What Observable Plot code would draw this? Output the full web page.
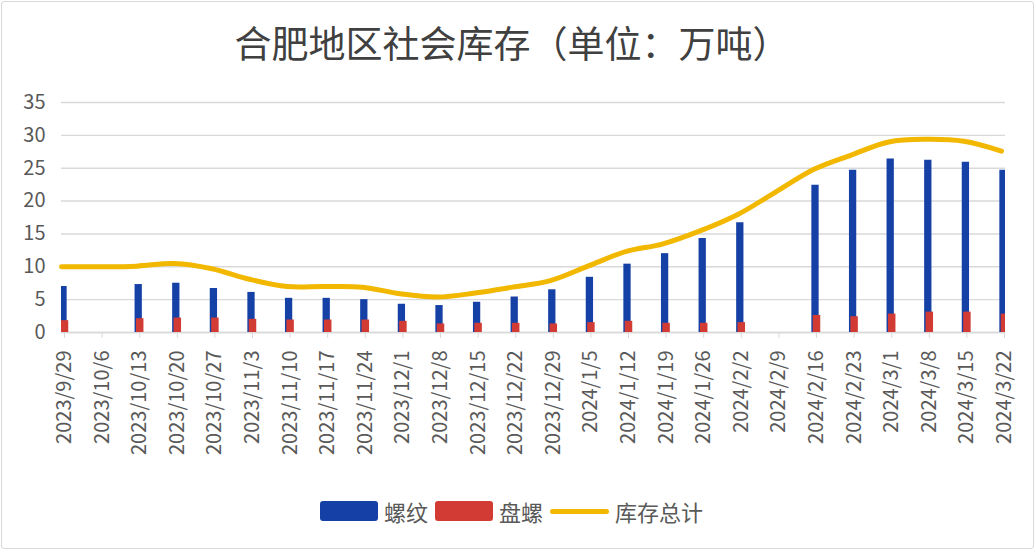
<!DOCTYPE html>
<html>
<head>
<meta charset="utf-8">
<script src="https://cdn.jsdelivr.net/npm/d3@7"></script>
<script src="https://cdn.jsdelivr.net/npm/@observablehq/plot@0.6"></script>
<style>
  html, body { margin: 0; padding: 0; background: #fff; }
  #chart { position: relative; width: 1036px; height: 551px; overflow: hidden; font-family: "Noto Sans CJK SC", "Noto Sans", sans-serif; }
  #frame { position: absolute; left: 1px; top: 1px; width: 1031px; height: 546px; border: 1.5px solid #d9d9d9; border-radius: 3px; }
  #title { position: absolute; left: 0; width: 1024px; top: 16px; text-align: center; font-size: 37px; line-height: 52px; color: #404040; }
  #plot { position: absolute; left: 0; top: 80px; }
  #legend { position: absolute; top: 498px; left: 320px; display: flex; align-items: center; font-size: 22px; color: #595959; }
  .sw { width: 58px; height: 20px; border-radius: 3px; margin-right: 6px; }
  .ln { width: 59px; height: 5px; border-radius: 3px; margin-right: 6px; }
  .lab { margin-right: 7px; line-height: 26px; }
</style>
</head>
<body>
<div id="chart">
  <div id="frame"></div>
  <div id="title">合肥地区社会库存（单位：万吨）</div>
  <div id="plot"></div>
  <div id="legend">
    <div class="sw" style="background:#1541a6"></div><span class="lab">螺纹</span>
    <div class="sw" style="background:#d23b34"></div><span class="lab">盘螺</span>
    <div class="ln" style="background:#f2b800"></div><span class="lab">库存总计</span>
  </div>
</div>
<script>
const dates = ["2023/9/29","2023/10/6","2023/10/13","2023/10/20","2023/10/27","2023/11/3","2023/11/10","2023/11/17","2023/11/24","2023/12/1","2023/12/8","2023/12/15","2023/12/22","2023/12/29","2024/1/5","2024/1/12","2024/1/19","2024/1/26","2024/2/2","2024/2/9","2024/2/16","2024/2/23","2024/3/1","2024/3/8","2024/3/15","2024/3/22"];
const rebar = [7.0,null,7.3,7.5,6.7,6.1,5.2,5.2,5.0,4.3,4.1,4.6,5.4,6.5,8.4,10.4,12.0,14.3,16.7,null,22.4,24.7,26.4,26.2,25.9,24.7];
const coil = [1.8,null,2.1,2.2,2.2,2.0,1.9,1.9,1.9,1.7,1.3,1.4,1.4,1.3,1.5,1.7,1.4,1.4,1.5,null,2.6,2.4,2.8,3.1,3.1,2.8];
const total = [10.0,10.0,10.1,10.5,9.7,8.1,7.0,7.0,6.9,5.9,5.4,6.0,6.9,7.9,10.1,12.3,13.5,15.5,18.0,21.4,24.8,27.0,29.0,29.4,29.1,27.6];
const yTicks = [0,5,10,15,20,25,30,35];

const rows = dates.map((d, i) => ({date: d, rebar: rebar[i], coil: coil[i], total: total[i]}));
const barRows = rows.filter(r => r.rebar != null);

const chart = Plot.plot({
  width: 1036,
  height: 400,
  marginLeft: 61,
  marginRight: 31,
  marginTop: 22,
  marginBottom: 148,
  style: {fontFamily: "'Noto Sans CJK SC', 'Noto Sans', sans-serif", fontSize: "20px", color: "#595959", background: "transparent", overflow: "visible"},
  x: {type: "point", domain: dates, padding: 0, round: false, insetRight: 4},
  y: {domain: [0, 35]},
  marks: [
    Plot.gridY(yTicks, {stroke: "#d9d9d9", strokeOpacity: 1, strokeWidth: 1.4}),
    Plot.axisY({ticks: yTicks, tickSize: 0, tickPadding: 16, fill: "#595959", label: null}),
    Plot.ruleY([0], {stroke: "#d9d9d9", strokeWidth: 1.4}),
    Plot.axisX({tickRotate: -90, tickSize: 6, tickPadding: 12, stroke: "#d9d9d9", strokeOpacity: 1, fill: "#595959", label: null, dx: 3}),
    Plot.ruleX(barRows, {x: "date", y1: 0, y2: "rebar", stroke: "#1541a6", strokeWidth: 7.3, dx: 1.5, clip: true}),
    Plot.ruleX(barRows, {x: "date", y1: 0, y2: "coil", stroke: "#d23b34", strokeWidth: 7.5, dx: 3, clip: true}),
    Plot.line(rows, {x: "date", y: "total", stroke: "#f2b800", strokeWidth: 5, curve: "catmull-rom", strokeLinecap: "round"})
  ]
});
document.getElementById("plot").appendChild(chart);
</script>
</body>
</html>
